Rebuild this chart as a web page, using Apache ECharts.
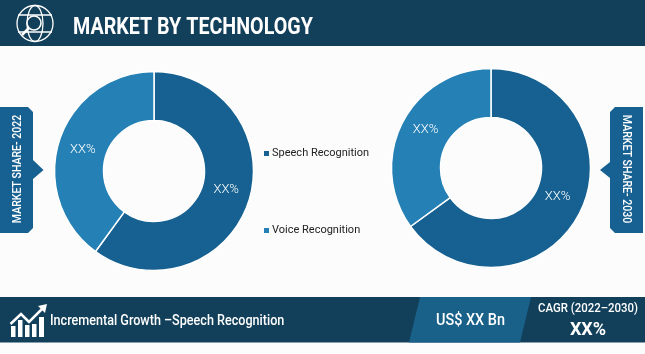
<!DOCTYPE html>
<html>
<head>
<meta charset="utf-8">
<style>
html, body { margin: 0; padding: 0; background: #fff; }
#main { width: 645px; height: 354px; }
</style>
<script src="https://cdn.jsdelivr.net/npm/echarts@6/dist/echarts.min.js"></script>
</head>
<body>
<div id="main"></div>
<script>
// data
var categories = ['Speech Recognition', 'Voice Recognition'];
var share2022 = [60, 40];
var share2030 = [65, 35];
var sliceLabels = ['XX%', 'XX%'];

var titleText = 'MARKET BY TECHNOLOGY';
var footerText = 'Incremental Growth \u2013Speech Recognition';
var sizeText = 'US$ XX Bn';
var cagrTitle = 'CAGR (2022\u20132030)';
var cagrValue = 'XX%';
var leftPanelText = 'MARKET SHARE- 2022';
var rightPanelText = 'MARKET SHARE- 2030';

var dark = '#123f5a';
var mid = '#166191';
var light = '#2580b5';
var font = 'Roboto';

function pieData(vals, offsets) {
     return vals.map(function (v, i) {
          return {
               name: categories[i],
               value: v,
               itemStyle: { color: i === 0 ? mid : light },
               label: { offset: offsets[i] }
          };
     });
}

function pie(center, vals, offsets) {
     return {
          type: 'pie',
          center: center,
          radius: [50.5, 99.5],
          startAngle: 90,
          clockwise: true,
          silent: true,
          itemStyle: { borderColor: '#fff', borderWidth: 1.5 },
          label: {
               show: true,
               position: 'inside',
               color: '#fff',
               fontFamily: font,
               fontWeight: 300,
               fontSize: 13,
               formatter: function (p) { return sliceLabels[p.dataIndex]; }
          },
          labelLine: { show: false },
          data: pieData(vals, offsets)
     };
}

function txt(str, x, y, size, opt) {
     opt = opt || {};
     return {
          type: 'text',
          x: x, y: y,
          rotation: opt.rotation || 0,
          scaleX: opt.scaleX || 1,
          z: 10,
          style: {
               text: str,
               fill: opt.fill || '#fff',
               font: (opt.weight || 'normal') + ' ' + size + 'px ' + font,
               align: opt.align || 'left',
               verticalAlign: 'middle'
          }
     };
}

var stroke = { stroke: '#fff', fill: 'none', lineWidth: 1.3 };

var decor = [
     // header and footer bands
     { type: 'rect', shape: { x: 0, y: 0, width: 645, height: 46 }, style: { fill: dark } },
     { type: 'rect', shape: { x: 0, y: 297, width: 645, height: 45.5 }, style: { fill: dark } },
     { type: 'polygon', shape: { points: [[420, 297], [531, 297], [520, 342.5], [409, 342.5]] }, style: { fill: '#1a6189' } },

     // side panels
     { type: 'polygon', shape: { points: [[0, 107], [28, 107], [33, 112], [33, 160], [43.5, 170], [33, 179], [33, 228], [28, 233], [0, 233]] }, style: { fill: mid } },
     { type: 'polygon', shape: { points: [[643, 107], [615, 107], [610, 112], [610, 162], [600, 170], [610, 178], [610, 228], [615, 233], [643, 233]] }, style: { fill: mid } },

     // globe icon
     { type: 'circle', shape: { cx: 35, cy: 23.5, r: 18 }, style: stroke },
     { type: 'ellipse', shape: { cx: 35, cy: 23.5, rx: 8, ry: 18 }, style: stroke },
     { type: 'line', shape: { x1: 18, y1: 15, x2: 52, y2: 15 }, style: stroke },
     { type: 'line', shape: { x1: 18, y1: 32, x2: 52, y2: 32 }, style: stroke },
     { type: 'circle', z: 2, shape: { cx: 34, cy: 23, r: 7 }, style: { fill: dark, stroke: '#fff', lineWidth: 1.6 } },
     { type: 'line', z: 2, shape: { x1: 29, y1: 28, x2: 22, y2: 35 }, style: { stroke: '#fff', lineWidth: 2.5 } },

     // growth icon
     { type: 'rect', shape: { x: 11, y: 326, width: 4.5, height: 11 }, style: { fill: '#fff' } },
     { type: 'rect', shape: { x: 18, y: 320, width: 4.5, height: 17 }, style: { fill: '#fff' } },
     { type: 'rect', shape: { x: 25, y: 325, width: 4.5, height: 12 }, style: { fill: '#fff' } },
     { type: 'rect', shape: { x: 32, y: 324, width: 4.5, height: 13 }, style: { fill: '#fff' } },
     { type: 'rect', shape: { x: 39, y: 317, width: 5, height: 20 }, style: { fill: '#fff' } },
     { type: 'polyline', shape: { points: [[10.5, 324], [21, 314], [29, 322], [42, 309]] }, style: { stroke: '#fff', fill: 'none', lineWidth: 2.5 } },
     { type: 'polygon', shape: { points: [[38, 306], [47, 304], [45, 313]] }, style: { fill: '#fff' } },

     // texts
     txt(titleText, 73, 28, 24, { weight: 'bold', scaleX: 0.82 }),
     txt(footerText, 50, 321, 14, { scaleX: 0.9, weight: '500' }),
     txt(sizeText, 470.5, 321, 17, { align: 'center', scaleX: 0.85, weight: '500' }),
     txt(cagrTitle, 588, 309, 13, { align: 'center', scaleX: 0.88, weight: '500' }),
     txt(cagrValue, 588, 330, 18, { align: 'center', weight: 'bold' }),
     txt(leftPanelText, 17.5, 169, 13, { rotation: Math.PI / 2, align: 'center', weight: '500', scaleX: 0.81 }),
     txt(rightPanelText, 626, 169, 13, { rotation: -Math.PI / 2, align: 'center', weight: '500', scaleX: 0.81 })
];

var myChart = echarts.init(document.getElementById('main'), null, { renderer: 'canvas' });
var option = {
     animation: false,
     backgroundColor: '#fcfcfc',
     legend: {
          orient: 'vertical',
          left: 259,
          top: 143,
          itemWidth: 5,
          itemHeight: 5,
          itemGap: 66,
          icon: 'rect',
          selectedMode: false,
          data: categories,
          itemStyle: { borderWidth: 0 },
          textStyle: { color: '#222', fontFamily: font, fontSize: 11, padding: [0, 0, 0, -2] }
     },
     series: [
          pie([154, 171], share2022, [[-2, -5], [3, 3]]),
          pie([491, 168], share2030, [[-3, -7], [4, -3]])
     ],
     graphic: decor
};
myChart.setOption(option);
</script>
</body>
</html>
